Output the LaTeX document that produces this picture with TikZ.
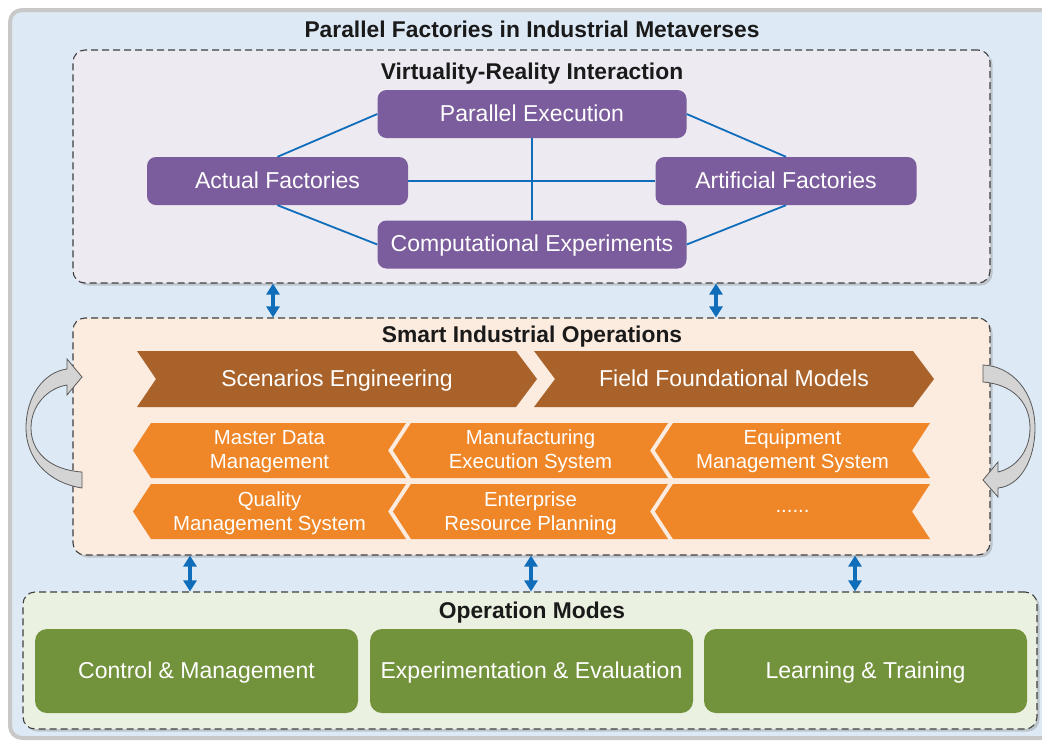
\documentclass[tikz,border=0pt]{standalone}
\usepackage{fontspec}
\setmainfont{Liberation Sans}
\usetikzlibrary{arrows.meta,shadows}
\definecolor{outerfill}{HTML}{DDE9F5}
\definecolor{outerline}{HTML}{C8C8C8}
\definecolor{vrfill}{HTML}{EDEAF2}
\definecolor{siofill}{HTML}{FCEBDF}
\definecolor{omfill}{HTML}{EBF1E0}
\definecolor{purp}{HTML}{7B5C9C}
\definecolor{conblue}{HTML}{0F6DBA}
\definecolor{brown}{HTML}{A9632A}
\definecolor{orng}{HTML}{EF8627}
\definecolor{grn}{HTML}{72923C}
\definecolor{ttl}{HTML}{1A1A1A}
\tikzset{
  groupbox/.style={draw=black!75, line width=1.1pt, dash pattern=on 7pt off 4pt, rounded corners=12pt,
    drop shadow={opacity=0.35, shadow xshift=2.5pt, shadow yshift=-2.5pt}, inner sep=0pt},
  grouptitle/.style={text=ttl, font=\fontsize{22.8}{27}\selectfont\bfseries, inner sep=0pt, anchor=base},
  pnode/.style={fill=purp, rounded corners=9pt, text=white, minimum width=309pt, minimum height=48pt,
    font=\fontsize{23}{27}\selectfont, inner sep=0pt, text height=16pt, text depth=2pt},
  pnodeb/.style={pnode, minimum width=261pt},
  conn/.style={draw=conblue, line width=1.8pt},
  dbl/.style={draw=conblue, line width=3.2pt, {Triangle[length=11pt,width=13pt]}-{Triangle[length=11pt,width=13pt]}},
  chevtext/.style={text=white, font=\fontsize{23}{27}\selectfont, inner sep=0pt, anchor=base},
  subtext/.style={text=white, font=\fontsize{20.4}{24}\selectfont, inner sep=0pt, anchor=base},
  gnode/.style={fill=grn, rounded corners=12pt, text=white, minimum width=323pt, minimum height=84pt,
    font=\fontsize{23}{27}\selectfont, inner sep=0pt, text height=16pt, text depth=2pt},
  curvearrow/.style={fill=black!17, draw=black!65, line width=0.8pt}
}
\begin{document}
\begin{tikzpicture}[x=1pt,y=-1pt]
\useasboundingbox (0,0) rectangle (1042,745);
\clip (0,0) rectangle (1042,745);
\draw[line width=4pt, draw=outerline, fill=outerfill, rounded corners=12pt] (10,10) rectangle (1054,738);
\node[grouptitle] (maintitle) at (532,37) {Parallel Factories in Industrial Metaverses};

% group boxes
\node[groupbox, fill=vrfill, minimum width=917pt, minimum height=233pt] (vr) at (531.5,166.5) {};
\node[groupbox, fill=siofill, minimum width=917pt, minimum height=237pt] (sio) at (531.5,436.5) {};
\node[groupbox, fill=omfill, minimum width=1014pt, minimum height=137pt] (om) at (530,660.5) {};

\node[grouptitle] (vrt) at (532,79) {Virtuality-Reality Interaction};
\node[grouptitle] (siot) at (532,342) {Smart Industrial Operations};
\node[grouptitle] (omt) at (532,618) {Operation Modes};

% purple nodes
\node[pnode] (pe) at (532,114) {Parallel Execution};
\node[pnodeb] (af) at (277.5,181) {Actual Factories};
\node[pnodeb] (rf) at (786,181) {Artificial Factories};
\node[pnode] (ce) at (532,244.5) {Computational Experiments};

\draw[conn] (af.north) -- (pe.west);
\draw[conn] (af.south) -- (ce.west);
\draw[conn] (pe.east) -- (rf.north);
\draw[conn] (ce.east) -- (rf.south);
\draw[conn] (af.east) -- (rf.west);
\draw[conn] (pe.south) -- (ce.north);

% brown chevrons
\fill[brown] (137,351) -- (516,351) -- (537,379) -- (516,407) -- (137,407) -- (156,379) -- cycle;
\fill[brown] (534,351) -- (913,351) -- (934,379) -- (913,407) -- (534,407) -- (555,379) -- cycle;
\node[chevtext] (se) at (337,386) {Scenarios Engineering};
\node[chevtext] (ffm) at (734,386) {Field Foundational Models};

% orange reversed chevrons
\foreach \ya/\yb/\ym in {423/478/450.5, 484/539/511.5}{
  \fill[orng] (133,\ym) -- (151,\ya) -- (406,\ya) -- (388,\ym) -- (406,\yb) -- (151,\yb) -- cycle;
  \fill[orng] (393,\ym) -- (411,\ya) -- (668,\ya) -- (650,\ym) -- (668,\yb) -- (411,\yb) -- cycle;
  \fill[orng] (655,\ym) -- (673,\ya) -- (930,\ya) -- (912,\ym) -- (930,\yb) -- (673,\yb) -- cycle;
}
\node[subtext] (mdma) at (269.5,444) {Master Data};
\node[subtext] (mdmb) at (269.5,468) {Management};
\node[subtext] (mesa) at (530.5,444) {Manufacturing};
\node[subtext] (mesb) at (530.5,468) {Execution System};
\node[subtext] (emsa) at (792.5,444) {Equipment};
\node[subtext] (emsb) at (792.5,468) {Management System};
\node[subtext] (qmsa) at (269.5,506) {Quality};
\node[subtext] (qmsb) at (269.5,530) {Management System};
\node[subtext] (erpa) at (530.5,506) {Enterprise};
\node[subtext] (erpb) at (530.5,530) {Resource Planning};
\node[subtext] (more) at (792.5,512) {......};

% curved gray arrows
\path[curvearrow] (82,488) .. controls (45,482) and (26,456) .. (26,428)
  .. controls (26,396) and (44,372) .. (67,369) -- (67,359) -- (82,377) -- (67,395) -- (67,385)
  .. controls (48,388) and (31,405) .. (31,428) .. controls (31,452) and (50,470) .. (82,472) -- cycle;
\path[curvearrow] (983,365) .. controls (1012,366) and (1035,392) .. (1035,428)
  .. controls (1035,460) and (1020,486) .. (998,488) -- (998,497) -- (983,480) -- (998,462) -- (998,472)
  .. controls (1015,468) and (1030,452) .. (1030,428) .. controls (1030,400) and (1010,384) .. (983,382) -- cycle;

% green nodes
\node[gnode] (cm) at (196.5,671) {Control \& Management};
\node[gnode] (ee) at (531.5,671) {Experimentation \& Evaluation};
\node[gnode] (lt) at (865.5,671) {Learning \& Training};

% double arrows
\coordinate (xa) at (273,0);
\coordinate (xb) at (716,0);
\coordinate (xc) at (190,0);
\coordinate (xd) at (531,0);
\coordinate (xe) at (855,0);
\draw[dbl] (vr.south -| xa) -- (sio.north -| xa);
\draw[dbl] (vr.south -| xb) -- (sio.north -| xb);
\draw[dbl] (sio.south -| xc) -- (om.north -| xc);
\draw[dbl] (sio.south -| xd) -- (om.north -| xd);
\draw[dbl] (sio.south -| xe) -- (om.north -| xe);
\end{tikzpicture}
\end{document}
